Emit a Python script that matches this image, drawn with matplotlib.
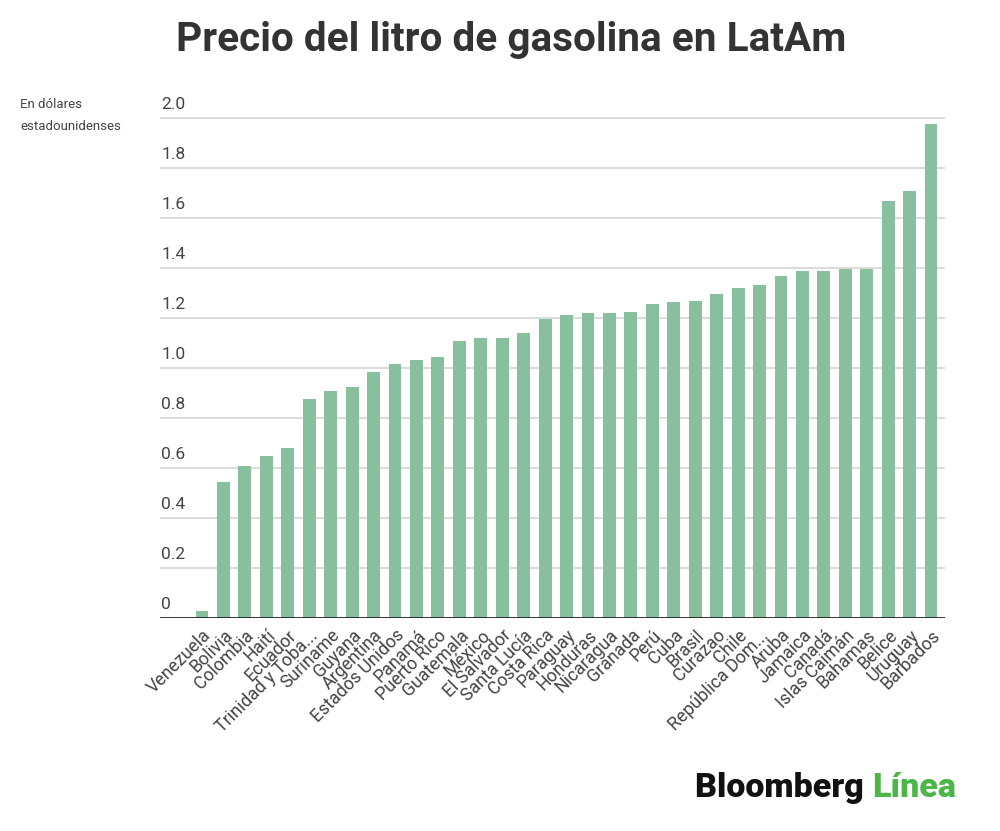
import matplotlib
matplotlib.use("Agg")
import matplotlib.pyplot as plt
import matplotlib.transforms as mtransforms

countries = ["Venezuela", "Bolivia", "Colombia", "Haití", "Ecuador", "Trinidad y Toba...",
             "Suriname", "Guyana", "Argentina", "Estados Unidos", "Panamá", "Puerto Rico",
             "Guatemala", "México", "El Salvador", "Santa Lucía", "Costa Rica", "Paraguay",
             "Honduras", "Nicaragua", "Granada", "Perú", "Cuba", "Brasil", "Curazao", "Chile",
             "República Dom...", "Aruba", "Jamaica", "Canadá", "Islas Caimán", "Bahamas",
             "Belice", "Uruguay", "Barbados"]
prices = [0.03, 0.545, 0.61, 0.65, 0.68, 0.877, 0.907, 0.924, 0.985, 1.015, 1.032, 1.046,
          1.108, 1.122, 1.122, 1.139, 1.196, 1.212, 1.219, 1.219, 1.224, 1.258, 1.265, 1.269,
          1.298, 1.321, 1.333, 1.368, 1.388, 1.388, 1.396, 1.396, 1.670, 1.710, 1.977]
yticks = [0, 0.2, 0.4, 0.6, 0.8, 1.0, 1.2, 1.4, 1.6, 1.8, 2.0]
ytick_labels = ["0", "0.2", "0.4", "0.6", "0.8", "1.0", "1.2", "1.4", "1.6", "1.8", "2.0"]

plt.rcParams['font.family'] = ['Roboto', 'DejaVu Sans']

fig = plt.figure(figsize=(10, 8.31), dpi=100)
ax = fig.add_axes([0.16, 1 - 618 / 831, 0.785, (618 - 113) / 831])

x = list(range(len(countries)))
ax.bar(x, prices, width=0.6, color="#87bf9f", zorder=2)

ax.set_xlim(-1.96, 34.65)
ax.set_ylim(0, 2.02)

# gridlines
for v in yticks[1:]:
    ax.axhline(v, color="#dcdcdc", lw=1.5, zorder=1)
ax.axhline(0, color="#222222", lw=2, zorder=3)

ax.set_yticks([])
trans = mtransforms.blended_transform_factory(ax.transAxes, ax.transData)
for v, lab in zip(yticks, ytick_labels):
    ax.annotate(lab, xy=(0, v), xycoords=trans, xytext=(1, 4), textcoords="offset points",
                ha="left", va="bottom", fontsize=12.5, color="#444444")

ax.set_xticks(x)
ax.set_xticklabels(countries, rotation=45, ha="right", rotation_mode="anchor",
                   fontsize=12.8, color="#444444")
ax.tick_params(axis="x", length=0, pad=6)

for s in ax.spines.values():
    s.set_visible(False)

fig.text(0.511, 1 - 40 / 831, "Precio del litro de gasolina en LatAm", ha="center", va="center",
         fontsize=29.2, fontweight="bold", color="#333333")
fig.text(0.02, 1 - 104 / 831, "En dólares", ha="left", va="center", fontsize=9.5, color="#444444")
fig.text(0.02, 1 - 127 / 831, "estadounidenses", ha="left", va="center", fontsize=9.5, color="#444444")

t1 = fig.text(0.695, 1 - 788 / 831, "Bloomberg ", ha="left", va="center", fontsize=24.5,
              fontweight="black", color="#111111")
fig.canvas.draw()
bb = t1.get_window_extent()
fig.text(bb.x1 / fig.bbox.width, 1 - 788 / 831, "Línea", ha="left", va="center", fontsize=24.5,
         fontweight="black", color="#4cb648")

fig.savefig("out.png", dpi=100, facecolor="white")
